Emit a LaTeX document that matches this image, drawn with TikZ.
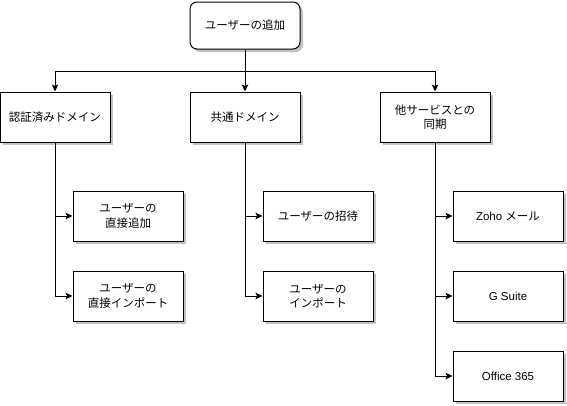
\documentclass[tikz,border=0pt]{standalone}
\usepackage{fontspec}
\setmainfont{Liberation Sans}
\newfontfamily\jp{Noto Sans CJK JP}
\usetikzlibrary{arrows.meta,shadows}
\begin{document}
\begin{tikzpicture}[x=1pt,y=-1pt,
  box/.style={draw=black, line width=1pt, fill=white, minimum width=110pt, minimum height=50pt,
    inner sep=0pt, align=center, font=\jp\fontsize{11.5}{14.5}\selectfont,
    drop shadow={shadow xshift=3pt, shadow yshift=-3pt, fill=black!30, opacity=0.8}},
  topbox/.style={box, minimum height=47pt, rounded corners=7pt},
  arr/.style={line width=1pt, -{Stealth[length=7pt,width=6.5pt,inset=1.5pt]}}
]
\useasboundingbox (0,0) rectangle (567,405);
\node[topbox] (top) at (245,25.5) {ユーザーの追加};
\node[box] (r1) at (55,117) {認証済みドメイン};
\node[box] (r2) at (245,117) {共通ドメイン};
\node[box] (r3) at (435,117) {他サービスとの\\同期};
\node[box] (a1) at (128,216) {ユーザーの\\直接追加};
\node[box] (a2) at (128,296) {ユーザーの\\直接インポート};
\node[box] (b1) at (318,216) {ユーザーの招待};
\node[box] (b2) at (318,296) {ユーザーの\\インポート};
\node[box, font=\fontsize{11.5}{14.5}\selectfont] (c1) at (508,216) {Zoho {\jp メール}};
\node[box, font=\fontsize{11.5}{14.5}\selectfont] (c2) at (508,296) {G Suite};
\node[box, font=\fontsize{11.5}{14.5}\selectfont] (c3) at (508,376) {Office 365};
\coordinate (hub) at (245,71);
\draw[arr] (top.south) -- (r2.north);
\draw[arr] (hub) -| (r1.north);
\draw[arr] (hub) -| (r3.north);
\draw[arr] (r1.south) |- (a1.west);
\draw[arr] (r1.south) |- (a2.west);
\draw[arr] (r2.south) |- (b1.west);
\draw[arr] (r2.south) |- (b2.west);
\draw[arr] (r3.south) |- (c1.west);
\draw[arr] (r3.south) |- (c2.west);
\draw[arr] (r3.south) |- (c3.west);
\end{tikzpicture}
\end{document}
